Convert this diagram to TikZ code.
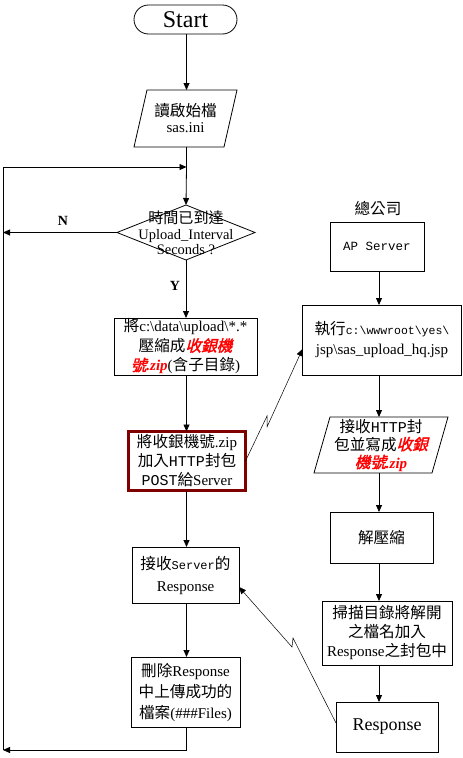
\documentclass[tikz,border=0pt]{standalone}
\usepackage{fontspec}
\setmainfont{Liberation Serif}
\setmonofont{Liberation Mono}
\newfontfamily\zh[Scale=1.04]{Noto Sans CJK TC}
\newfontfamily\zhem[Scale=1.04,FakeSlant=0.25,FakeBold=2]{Noto Sans CJK TC}
\usetikzlibrary{arrows.meta,shapes.geometric,calc}
\definecolor{postframe}{RGB}{128,0,0}
% red highlighted file name parts
\newcommand\redzh[1]{{\color{red}\zhem #1}}
\newcommand\redzip{{\color{red}\bfseries\itshape .zip}}
\newcommand\bs{\textbackslash}
\begin{document}
\begin{tikzpicture}[x=1pt,y=-1pt,line width=0.8pt,
  every node/.style={inner sep=0pt,outer sep=0pt},
  box/.style={draw,rectangle,align=center,font=\fontsize{15}{20}\selectfont},
  plain/.style={align=center,font=\fontsize{15}{19}\selectfont},
  flow/.style={-{Triangle[length=7pt,width=6pt]}},
  bolt/.style={line width=0.5pt,-{Triangle[length=7pt,width=6pt]}},
  lbl/.style={font=\fontsize{14}{16}\selectfont\bfseries}]
\useasboundingbox (0,0) rectangle (463,758);
\coordinate (mx) at (186.5,0);

% ---- client side ----
\node[draw,rounded corners=14.5pt,minimum width=103pt,minimum height=29pt,
      font=\fontsize{24}{26}\selectfont] (start) at (185.5,19.5) {Start};

\node[plain,minimum width=90pt,minimum height=57pt,font=\fontsize{15}{16}\selectfont] (ini) at (185.5,118.5)
  {{\zh 讀啟始檔}\\sas.ini};
\draw ($(ini.south west)+(-6.5,0)$) -- ($(ini.north west)+(6.5,0)$) --
      ($(ini.north east)+(6.5,0)$) -- ($(ini.south east)+(-6.5,0)$) -- cycle;

\node[draw,diamond,minimum width=138pt,minimum height=55pt] (chk) at (186,232.5) {};
\node[align=center,font=\fontsize{14.5}{15.5}\selectfont] (chktxt) at (186,233)
  {{\zh 時間已到達}\\Upload\_Interval\\Seconds ?};

\node[box,minimum width=143pt,minimum height=57pt,font=\fontsize{15}{19.5}\selectfont] (zipbox) at (185.5,346.5)
  {{\zh 將}c:\bs data\bs upload\bs *.*\\{\zh 壓縮成}\redzh{收銀機}\\\redzh{號}\redzip({\zh 含子目錄})};

\node[box,draw=postframe,line width=3pt,minimum width=117pt,minimum height=59pt,font=\fontsize{15}{19}\selectfont] (post) at (187,461)
  {{\zh 將收銀機號}.zip\\{\zh 加入}{\ttfamily HTTP}{\zh 封包}\\{\ttfamily POST}{\zh 給}Server};

\node[box,minimum width=107pt,minimum height=56pt,font=\fontsize{15}{22}\selectfont] (recv) at (185.5,575)
  {{\zh 接收}{\ttfamily\fontsize{12}{22}\selectfont Server}{\zh 的}\\Response};

\node[box,minimum width=109pt,minimum height=70pt,font=\fontsize{15}{21}\selectfont] (del) at (185.5,692)
  {{\zh 刪除}Response\\{\zh 中上傳成功的}\\{\zh 檔案}(\#\#\#Files)};

% ---- head office side ----
\node[plain] (hq) at (378,208) {\zh 總公司};
\node[box,minimum width=94pt,minimum height=49pt] (ap) at (377,246.5)
  {\ttfamily\fontsize{12.5}{14}\selectfont AP Server};
\node[box,minimum width=159pt,minimum height=70pt] (exec) at (382,340)
  {{\zh 執行}{\ttfamily\fontsize{11.5}{20}\selectfont c:\bs wwwroot\bs yes\bs}\\jsp\bs sas\_upload\_hq.jsp};

\node[plain,minimum width=118pt,minimum height=56pt,font=\fontsize{15}{18}\selectfont] (recvhttp) at (381,445)
  {{\zh 接收}{\ttfamily HTTP}{\zh 封}\\{\zh 包並寫成}\redzh{收銀}\\\redzh{機號}\redzip};
\draw ($(recvhttp.south west)+(-8,0)$) -- ($(recvhttp.north west)+(8,0)$) --
      ($(recvhttp.north east)+(8,0)$) -- ($(recvhttp.south east)+(-8,0)$) -- cycle;

\node[box,minimum width=103pt,minimum height=51pt] (unzip) at (381.5,537.5) {\zh 解壓縮};
\node[box,minimum width=130pt,minimum height=64pt,font=\fontsize{15}{19}\selectfont] (scan) at (387,633)
  {{\zh 掃描目錄將解開}\\{\zh 之檔名加入}\\Response{\zh 之封包中}};
\node[box,minimum width=102pt,minimum height=50pt,font=\fontsize{18}{20}\selectfont] (resp) at (387,727) {Response};

% ---- main flow ----
\coordinate (lb) at (3,750);
\coordinate (join) at (186.5,167);
\draw[flow] (start.south -| mx) -- (ini.north -| mx);
\draw (ini.south -| mx) -- (join);
\draw[flow] (join) -- (chk.north);
\draw[flow] (chk.south) -- (zipbox.north -| chk.south);
\draw[flow] (zipbox.south -| mx) -- (post.north -| mx);
\draw[flow] (post.south -| mx) -- (recv.north -| mx);
\draw[flow] (recv.south -| mx) -- (del.north -| mx);
% loop back
\draw[flow] (del.south -| mx) |- (lb);
\draw[flow] (lb) |- (join);
\draw[flow] (chk.west) -- (chk.west -| lb);
\node[lbl] (nlabel) at (63,221) {N};
\node[lbl] (ylabel) at (175,286) {Y};

% ---- head office flow ----
\coordinate (rx) at (379,0);
\draw[flow] (ap.south -| rx) -- (exec.north -| rx);
\draw[flow] (exec.south -| rx) -- (recvhttp.north -| rx);
\draw[flow] (recvhttp.south -| rx) -- (unzip.north -| rx);
\draw[flow] (unzip.south -| rx) -- (scan.north -| rx);
\draw[flow] (scan.south -| rx) -- (resp.north -| rx);

% ---- network transfers ----
\draw[bolt] (post.east) -- (267,416) -- (267,427) -- ($(exec.west)+(0,9)$);
\draw[bolt] ($(resp.west)+(0,-4)$) -- (293,638) -- (292,647) -- ($(recv.east)+(0,12)$);
\end{tikzpicture}
\end{document}
